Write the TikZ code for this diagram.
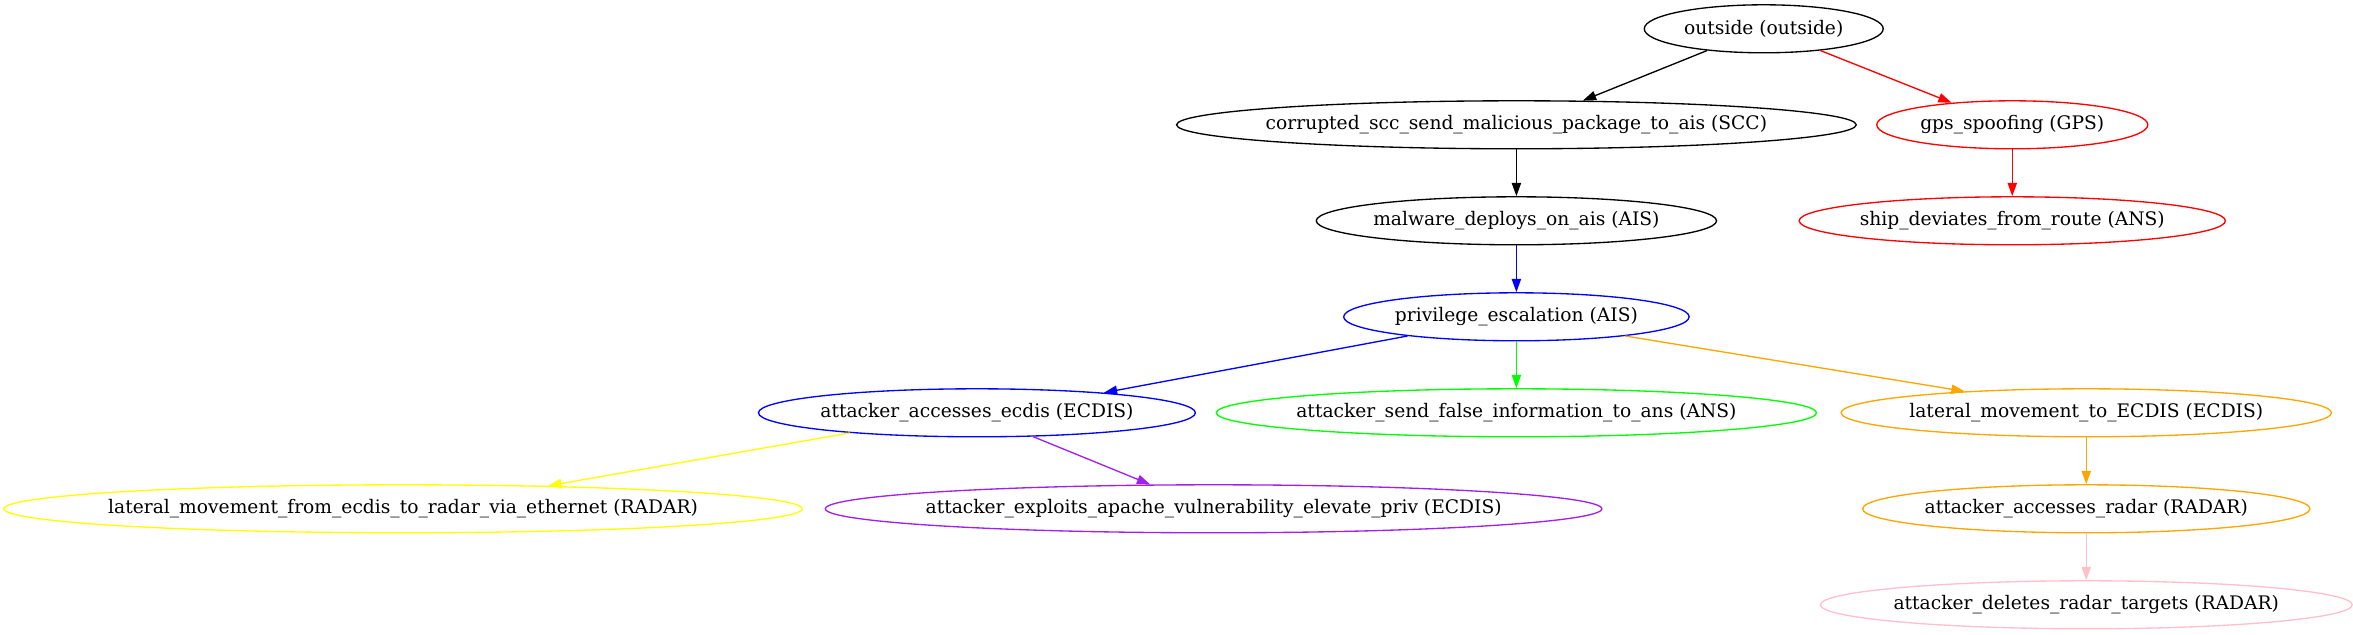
\documentclass[tikz,border=0pt]{standalone}
\usepackage{fontspec}
\setmainfont{DejaVu Serif}
\usetikzlibrary{
    shapes.geometric,
    arrows.meta
}
\definecolor{gvgreen}{HTML}{00FF00}
\definecolor{gvorange}{HTML}{FFA500}
\definecolor{gvyellow}{HTML}{FFFF00}
\definecolor{gvpurple}{HTML}{A020F0}
\definecolor{gvpink}{HTML}{FFC0CB}

\begin{document}
\begin{tikzpicture}[x=1pt, y=1pt,
    attack/.style={ellipse, draw, line width=1pt, minimum height=36pt, inner sep=0pt,
        font=\fontsize{14}{16.8}\selectfont,
        execute at begin node={\hbox to 0pt\bgroup\hss},
        execute at end node={\hss\egroup}},
    flow/.style={-{Triangle[length=10pt, width=7pt]}, line width=1pt}]
    \useasboundingbox (0, 0) rectangle (1764.75, -476.25);
    % attack steps, one row per rank
    \node[attack, minimum width=179.2pt] (outside) at (1322.8, -21.6) {outside (outside)};
    \node[attack, minimum width=509.8pt] (scc) at (1137.3, -93.6) {corrupted\_scc\_send\_malicious\_package\_to\_ais (SCC)};
    \node[attack, draw=red, minimum width=203.3pt] (gps) at (1509.2, -93.6) {gps\_spoofing (GPS)};
    \node[attack, minimum width=300.2pt] (malware) at (1137.3, -165.6) {malware\_deploys\_on\_ais (AIS)};
    \node[attack, draw=red, minimum width=319.7pt] (deviate) at (1509.2, -165.6) {ship\_deviates\_from\_route (ANS)};
    \node[attack, draw=blue, minimum width=259.1pt] (escalate) at (1137.3, -237.6) {privilege\_escalation (AIS)};
    \node[attack, draw=blue, minimum width=327.7pt] (ecdis) at (732.7, -309.6) {attacker\_accesses\_ecdis (ECDIS)};
    \node[attack, draw=gvgreen, minimum width=450.2pt] (falseinfo) at (1137.3, -309.6) {attacker\_send\_false\_information\_to\_ans (ANS)};
    \node[attack, draw=gvorange, minimum width=367.7pt] (lateral) at (1564.7, -309.6) {lateral\_movement\_to\_ECDIS (ECDIS)};
    \node[attack, draw=gvyellow, minimum width=598.9pt] (ethernet) at (302.3, -381.6) {lateral\_movement\_from\_ecdis\_to\_radar\_via\_ethernet (RADAR)};
    \node[attack, draw=gvpurple, minimum width=582.4pt] (apache) at (910.2, -381.6) {attacker\_exploits\_apache\_vulnerability\_elevate\_priv (ECDIS)};
    \node[attack, draw=gvorange, minimum width=335.4pt] (radar) at (1564.7, -381.6) {attacker\_accesses\_radar (RADAR)};
    \node[attack, draw=gvpink, minimum width=398.9pt] (targets) at (1564.7, -453.6) {attacker\_deletes\_radar\_targets (RADAR)};
    % transitions
    \draw
    (outside.201.5) edge[flow] (scc.20.4)
    (outside.339) edge[flow, red] (gps.160.8)
    (scc.south) edge[flow] (malware.north)
    (gps.south) edge[flow, red] (deviate.north)
    (malware.south) edge[flow, blue] (escalate.north)
    (escalate.190.3) edge[flow, blue] (ecdis.9.4)
    (escalate.south) edge[flow, gvgreen] (falseinfo.north)
    (escalate.350) edge[flow, gvorange] (lateral.170.9)
    (ecdis.189.8) edge[flow, gvyellow] (ethernet.9.2)
    (ecdis.337.4) edge[flow, gvpurple] (apache.159.8)
    (lateral.south) edge[flow, gvorange] (radar.north)
    (radar.south) edge[flow, gvpink] (targets.north);
\end{tikzpicture}
\end{document}
